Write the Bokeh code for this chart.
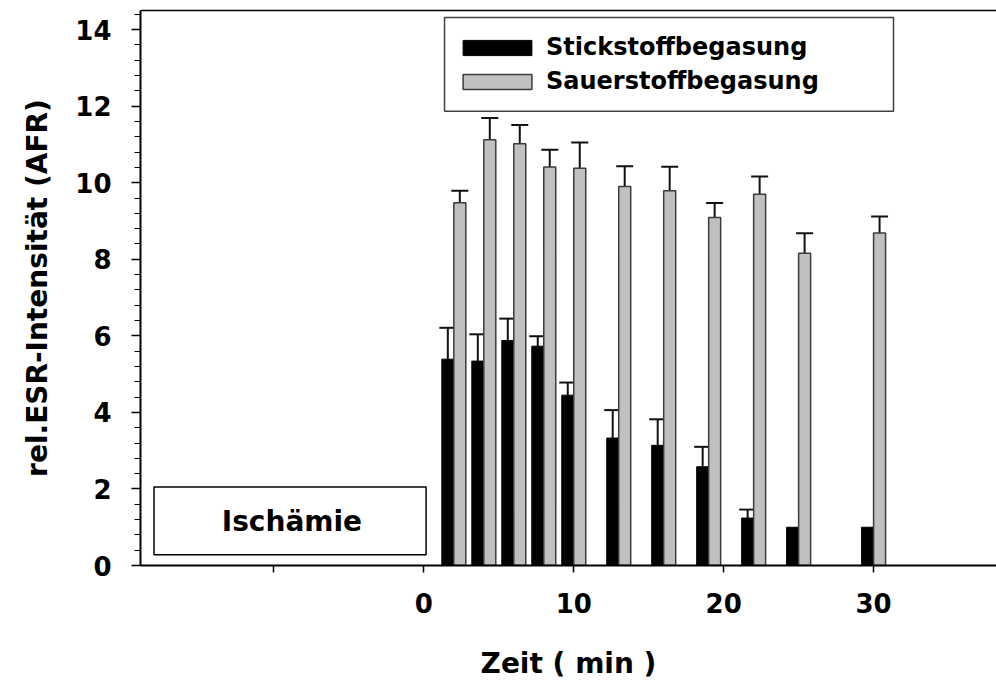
from bokeh.plotting import figure
from bokeh.models import (Range1d, FixedTicker, LinearAxis, Legend, LegendItem,
                          Whisker, TeeHead, ColumnDataSource, BoxAnnotation, Label)
from bokeh.embed import file_html
from bokeh.resources import INLINE

# Measurement times after start of reperfusion (min)
times = [2, 4, 6, 8, 10, 13, 16, 19, 22, 25, 30]

# Relative ESR intensity, nitrogen gassing (mean and upper SD)
n2_mean = [5.39, 5.34, 5.88, 5.73, 4.45, 3.33, 3.14, 2.58, 1.24, 1.0, 1.0]
n2_sd = [0.82, 0.70, 0.57, 0.26, 0.33, 0.73, 0.68, 0.52, 0.22, 0.0, 0.0]

# Relative ESR intensity, oxygen gassing (mean and upper SD)
o2_mean = [9.48, 11.12, 11.02, 10.41, 10.38, 9.90, 9.79, 9.09, 9.70, 8.16, 8.69]
o2_sd = [0.31, 0.57, 0.49, 0.45, 0.67, 0.53, 0.63, 0.38, 0.46, 0.52, 0.43]

x_ticks = [-10, 0, 10, 20, 30]
y_ticks = [0, 2, 4, 6, 8, 10, 12, 14]

series_names = ["Stickstoffbegasung", "Sauerstoffbegasung"]

FONT = "DejaVu Sans"
BAR_W = 0.8

p = figure(width=996, height=683, output_backend="svg", toolbar_location=None,
           x_range=Range1d(-18.9, 38.2), y_range=Range1d(0, 14.5),
           min_border_left=140, min_border_right=0, min_border_top=10,
           min_border_bottom=118)
p.xgrid.visible = False
p.ygrid.visible = False
p.outline_line_color = None
p.background_fill_color = "white"
p.border_fill_color = "white"

# --- bars -------------------------------------------------------------
src = ColumnDataSource(dict(
    t=times,
    x_n2=[t - BAR_W / 2 for t in times],
    x_o2=[t + BAR_W / 2 for t in times],
    n2=n2_mean, o2=o2_mean,
))
r_n2 = p.vbar(x="x_n2", top="n2", bottom=0, width=BAR_W, source=src,
              fill_color="black", line_color="black", line_width=1)
r_o2 = p.vbar(x="x_o2", top="o2", bottom=0, width=BAR_W, source=src,
              fill_color="#c0c0c0", line_color="#3c3c3c", line_width=1.5)

# --- one-sided (upper) error bars ----------------------------------
def upper_whiskers(xs, means, sds):
    keep = [i for i, s in enumerate(sds) if s > 0]
    return ColumnDataSource(dict(
        x=[xs[i] for i in keep],
        lo=[means[i] for i in keep],
        hi=[means[i] + sds[i] for i in keep],
    ))

for xs, means, sds in ((src.data["x_n2"], n2_mean, n2_sd),
                       (src.data["x_o2"], o2_mean, o2_sd)):
    w = Whisker(source=upper_whiskers(xs, means, sds), base="x", lower="lo", upper="hi",
                dimension="height", line_color="#111111", line_width=2,
                lower_head=None,
                upper_head=TeeHead(size=17, line_width=2, line_color="#111111"))
    p.add_layout(w)

# --- ischaemia marker box ------------------------------------------
p.add_layout(BoxAnnotation(left=-18.0, right=0.15, bottom=0.28, top=2.05,
                           fill_color="white", fill_alpha=1.0,
                           line_color="black", line_width=1.5, line_alpha=1.0))
p.add_layout(Label(x=-8.8, y=1.15, text="Ischämie", text_align="center",
                   text_baseline="middle", text_font=FONT, text_font_style="bold",
                   text_font_size="28px", text_color="black"))

# --- legend -----------------------------------------------------------
p.add_layout(BoxAnnotation(left=1.38, right=31.33, bottom=11.87, top=14.32,
                           fill_color="white", fill_alpha=1.0, level="underlay",
                           line_color="#404040", line_width=1.5, line_alpha=1.0))
legend = Legend(items=[LegendItem(label=series_names[0], renderers=[r_n2]),
                       LegendItem(label=series_names[1], renderers=[r_o2])],
                location=(314, 470), orientation="vertical",
                glyph_width=86, glyph_height=19, label_standoff=6,
                spacing=6, padding=0, margin=0,
                border_line_color=None, background_fill_alpha=0,
                label_text_font=FONT, label_text_font_style="bold",
                label_text_font_size="24px", label_height=26,
                label_text_color="black")
p.add_layout(legend)

# --- axes -------------------------------------------------------------
xa = p.xaxis[0]
xa.ticker = FixedTicker(ticks=x_ticks)
xa.major_label_overrides = {-10: ""}
xa.minor_tick_line_color = None
xa.major_tick_in = 0
xa.major_tick_out = 7
xa.major_tick_line_width = 1.5
xa.axis_line_width = 2
xa.major_label_standoff = 20
xa.major_label_text_font = FONT
xa.major_label_text_font_style = "bold"
xa.major_label_text_font_size = "26px"
xa.major_label_text_color = "black"
xa.axis_label = "Zeit ( min )"
xa.axis_label_standoff = 31
xa.axis_label_text_font = FONT
xa.axis_label_text_font_style = "bold"
xa.axis_label_text_font_size = "28px"
xa.axis_label_text_color = "black"

ya = p.yaxis[0]
ya.ticker = FixedTicker(ticks=y_ticks,
                        minor_ticks=[round(0.4 * i, 1) for i in range(37)])
ya.major_tick_in = 0
ya.major_tick_out = 9
ya.minor_tick_in = 0
ya.minor_tick_out = 6
ya.major_tick_line_width = 1.5
ya.minor_tick_line_width = 1.2
ya.axis_line_width = 2
ya.major_label_standoff = 20
ya.major_label_text_font = FONT
ya.major_label_text_font_style = "bold"
ya.major_label_text_font_size = "26px"
ya.major_label_text_color = "black"
ya.axis_label = "rel.ESR-Intensität (AFR)"
ya.axis_label_standoff = 18
ya.axis_label_text_font = FONT
ya.axis_label_text_font_style = "bold"
ya.axis_label_text_font_size = "28px"
ya.axis_label_text_color = "black"

# top frame line only
top = LinearAxis(ticker=FixedTicker(ticks=[]), major_label_text_font_size="0px",
                 major_tick_line_color=None, minor_tick_line_color=None,
                 major_label_standoff=0, axis_line_width=1.5)
p.add_layout(top, "above")

open("out.html", "w").write(file_html(p, INLINE))
